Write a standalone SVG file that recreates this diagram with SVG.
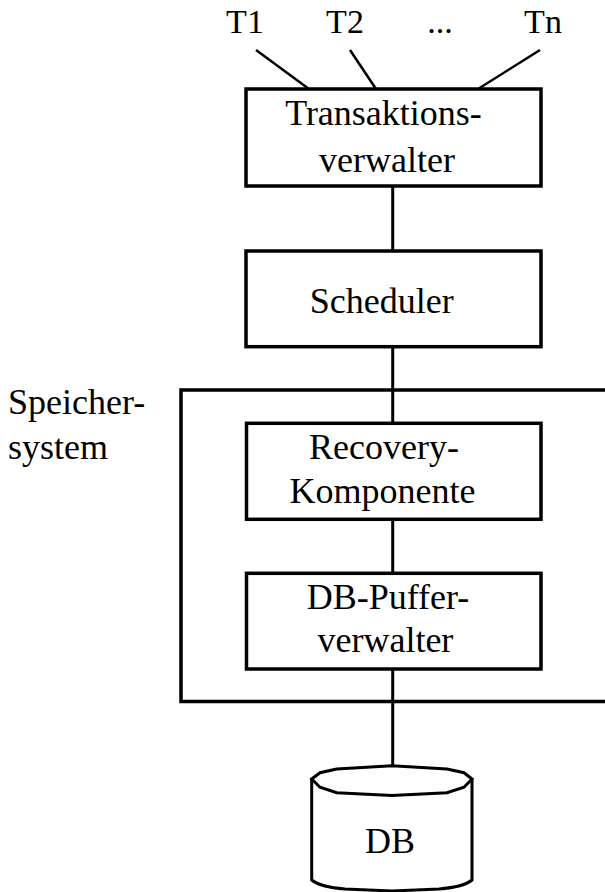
<svg xmlns="http://www.w3.org/2000/svg" width="605" height="892" viewBox="0 0 605 892">
  <style>
    .box { fill: #fff; stroke: #000; stroke-width: 3.5; }
    .frame { fill: none; stroke: #000; stroke-width: 3.5; }
    .link { fill: none; stroke: #000; stroke-width: 3; }
    .tlink { fill: none; stroke: #000; stroke-width: 2.5; }
    text { font-family: "Liberation Serif", "Times New Roman", serif; font-size: 36px; fill: #000; }
    .mid { text-anchor: middle; }
    .tlabel { font-size: 34px; }
  </style>

  <rect width="605" height="892" fill="#fff"/>

  <!-- storage system frame (open towards the right edge) -->
  <g id="speichersystem">
    <path class="frame" d="M 610 390 L 181 390 L 181 701.5 L 610 701.5"/>
    <text x="8" y="414">Speicher-</text>
    <text x="8" y="459">system</text>
  </g>

  <!-- connectors -->
  <g id="connectors">
    <line class="tlink" x1="256" y1="50" x2="309" y2="89"/>
    <line class="tlink" x1="350" y1="50" x2="376" y2="89"/>
    <line class="tlink" x1="540" y1="50" x2="478" y2="89"/>
    <line class="link" x1="392.7" y1="186" x2="392.7" y2="251"/>
    <line class="link" x1="392.7" y1="346.7" x2="392.7" y2="423.3"/>
    <line class="link" x1="392.7" y1="519.3" x2="392.7" y2="573.3"/>
    <line class="link" x1="392.7" y1="669" x2="392.7" y2="766"/>
  </g>

  <!-- transactions -->
  <g id="transactions">
    <text class="mid tlabel" x="245" y="33">T1</text>
    <text class="mid tlabel" x="345" y="33">T2</text>
    <text class="mid tlabel" x="440" y="33">...</text>
    <text class="mid tlabel" x="543" y="33">Tn</text>
  </g>

  <g id="transaktionsverwalter">
    <rect class="box" x="246" y="89" width="295" height="97"/>
    <text class="mid" x="383.5" y="125">Transaktions-</text>
    <text class="mid" x="387" y="171.5">verwalter</text>
  </g>

  <g id="scheduler">
    <rect class="box" x="246" y="251" width="295" height="95.7"/>
    <text class="mid" x="381.7" y="313.3">Scheduler</text>
  </g>

  <g id="recovery">
    <rect class="box" x="246.5" y="423.3" width="294.5" height="96"/>
    <text class="mid" x="384" y="459">Recovery-</text>
    <text class="mid" x="382.5" y="502.7">Komponente</text>
  </g>

  <g id="pufferverwalter">
    <rect class="box" x="246.5" y="573.3" width="294.5" height="95.7"/>
    <text class="mid" x="388" y="609.3">DB-Puffer-</text>
    <text class="mid" x="385.4" y="651.7">verwalter</text>
  </g>

  <!-- database cylinder -->
  <g id="db">
    <path class="link" fill="#fff" d="M 311.7 779 L 311.7 880 Q 320 887 345 889 L 392 891 L 439 889 Q 464 887 472 880 L 472 779"/>
    <path class="link" d="M 311.7 779 L 320 772.7 L 336.7 769 L 392 765.7 L 447 769 L 464 772.7 L 472 779 L 464 787.3 L 447 792.7 L 392 795.5 L 336.7 792.7 L 320 787.3 Z"/>
    <text class="mid" x="390" y="852.7">DB</text>
  </g>
</svg>
